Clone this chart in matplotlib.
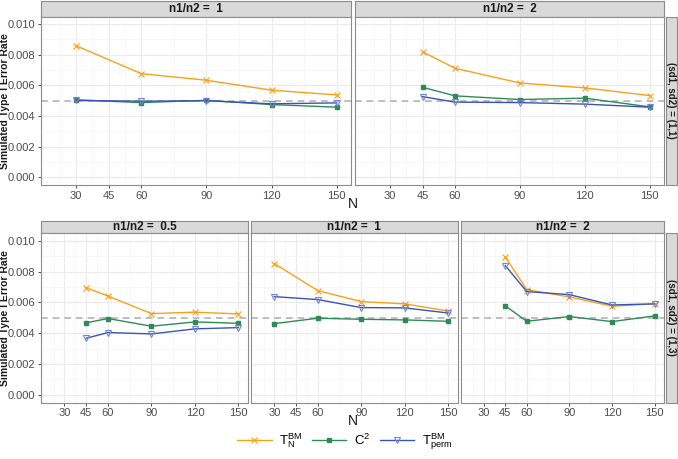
import matplotlib
matplotlib.use("Agg")
import matplotlib.pyplot as plt
from matplotlib.lines import Line2D

plt.rcParams['font.family'] = ['Liberation Sans', 'DejaVu Sans']
plt.rcParams['mathtext.fontset'] = 'custom'
plt.rcParams['mathtext.rm'] = 'Liberation Sans'
plt.rcParams['mathtext.it'] = 'Liberation Sans'

# ---------------- data ----------------
N_r1 = [30, 60, 90, 120, 150]
N_r2 = [45, 60, 90, 120, 150]
N_r05 = [45, 60, 90, 120, 150]

# row 1: (sd1, sd2) = (1,1)
sd11_r1_TN = [0.00859, 0.00677, 0.00634, 0.00569, 0.00538]
sd11_r1_C2 = [0.00506, 0.00488, 0.00503, 0.00475, 0.00458]
sd11_r1_TP = [0.00502, 0.00497, 0.00500, 0.00480, 0.00486]

sd11_r2_TN = [0.00820, 0.00712, 0.00616, 0.00584, 0.00534]
sd11_r2_C2 = [0.00588, 0.00532, 0.00508, 0.00517, 0.00460]
sd11_r2_TP = [0.00527, 0.00491, 0.00488, 0.00478, 0.00458]

# row 2: (sd1, sd2) = (1,3)
sd13_r05_TN = [0.00695, 0.00641, 0.00527, 0.00536, 0.00525]
sd13_r05_C2 = [0.00467, 0.00495, 0.00445, 0.00473, 0.00464]
sd13_r05_TP = [0.00367, 0.00404, 0.00395, 0.00428, 0.00436]

sd13_r1_TN = [0.00851, 0.00676, 0.00605, 0.00590, 0.00544]
sd13_r1_C2 = [0.00462, 0.00497, 0.00490, 0.00486, 0.00477]
sd13_r1_TP = [0.00637, 0.00618, 0.00566, 0.00564, 0.00531]

sd13_r2_TN = [0.00894, 0.00683, 0.00635, 0.00575, 0.00590]
sd13_r2_C2 = [0.00577, 0.00477, 0.00508, 0.00475, 0.00512]
sd13_r2_TP = [0.00838, 0.00670, 0.00650, 0.00583, 0.00590]

x_ticks = [30, 45, 60, 90, 120, 150]
y_ticks = [0.000, 0.002, 0.004, 0.006, 0.008, 0.010]
y_ticklabels = ['0.000', '0.002', '0.004', '0.006', '0.008', '0.010']
nominal = 0.005
series_labels = [r'$\mathregular{T_N^{BM}}$', r'$\mathregular{C^2}$', r'$\mathregular{T_{perm}^{BM}}$']

# ---------------- styling ----------------
W, H = 678, 459
C_TN = '#F7A11A'
C_C2 = '#2E8B57'
C_TP = '#3A52B8'
C_TP_M = '#7584D6'
GRID_MAJ = '#EBEBEB'
GRID_MIN = '#F4F4F4'
BORDER = '#8C8C8C'
STRIP_BG = '#D9D9D9'
TICKC = '#4D4D4D'

fig = plt.figure(figsize=(W / 100, H / 100), dpi=100)


def box(x0, y0, x1, y1):
    return [x0 / W, 1 - y1 / H, (x1 - x0) / W, (y1 - y0) / H]


def strip(x0, y0, x1, y1, text, rot=0):
    a = fig.add_axes(box(x0, y0, x1, y1))
    a.set_xticks([]); a.set_yticks([])
    a.set_facecolor(STRIP_BG)
    for s in a.spines.values():
        s.set_color(BORDER); s.set_linewidth(0.8)
    a.text(0.5, 0.5, text, ha='center', va='center', rotation=rot,
           fontsize=8.5 if rot == 0 else 7, fontweight='bold', color='#1A1A1A',
           transform=a.transAxes)
    return a


def panel(x0, y0, x1, y1, N, TN, C2, TP, ylabels):
    ax = fig.add_axes(box(x0, y0, x1, y1))
    ax.set_xlim(13.8, 156.6)
    ax.set_ylim(-0.0005, 0.0105)
    ax.set_xticks(x_ticks)
    ax.set_xticks([22.5, 37.5, 52.5, 75, 105, 135], minor=True)
    ax.set_yticks(y_ticks)
    ax.set_yticks([0.001, 0.003, 0.005, 0.007, 0.009], minor=True)
    ax.grid(which='major', color=GRID_MAJ, lw=0.8)
    ax.grid(which='minor', color=GRID_MIN, lw=0.5)
    ax.set_axisbelow(True)
    ax.tick_params(which='major', length=2.5, width=0.6, color='#333333',
                   labelsize=8, labelcolor=TICKC, pad=1.5)
    ax.tick_params(which='minor', length=0)
    if ylabels:
        ax.set_yticklabels(y_ticklabels)
    else:
        ax.tick_params(axis='y', which='major', length=0, labelleft=False)
    for s in ax.spines.values():
        s.set_color(BORDER); s.set_linewidth(0.8)
    ax.axhline(nominal, color='#B3B3B3', lw=1.2, ls=(0, (4, 3)), zorder=1)
    ax.plot(N, TN, color=C_TN, lw=1.0, marker='x', ms=4, mew=0.8, zorder=3)
    ax.plot(N, C2, color=C_C2, lw=1.0, marker='s', ms=3.5, zorder=3)
    ax.plot(N, TP, color=C_TP, lw=1.0, marker='v', ms=5, mfc='none', mec=C_TP_M, mew=0.8, zorder=3)
    return ax


# top row
strip(41, 1, 351, 16.5, 'n1/n2 =  1')
strip(355, 1, 664, 16.5, 'n1/n2 =  2')
panel(41, 16.5, 351, 185, N_r1, sd11_r1_TN, sd11_r1_C2, sd11_r1_TP, True)
panel(355, 16.5, 664, 185, N_r2, sd11_r2_TN, sd11_r2_C2, sd11_r2_TP, False)
strip(666, 16.5, 677, 185, '(sd1, sd2) = (1,1)', rot=270)

# bottom row
strip(41, 221, 248, 233, 'n1/n2 =  0.5')
strip(251, 221, 457.5, 233, 'n1/n2 =  1')
strip(461, 221, 664, 233, 'n1/n2 =  2')
panel(41, 233, 248, 402.5, N_r05, sd13_r05_TN, sd13_r05_C2, sd13_r05_TP, True)
panel(251, 233, 457.5, 402.5, N_r1, sd13_r1_TN, sd13_r1_C2, sd13_r1_TP, False)
panel(461, 233, 664, 402.5, N_r2, sd13_r2_TN, sd13_r2_C2, sd13_r2_TP, False)
strip(666, 233, 677, 402.5, '(sd1, sd2) = (1,3)', rot=270)

# axis titles
for yc in [(16.5 + 185) / 2, (233 + 402.5) / 2]:
    fig.text(5 / W, 1 - yc / H, 'Simulated Type I Error Rate', rotation=90,
             ha='center', va='center', fontsize=7.5, fontweight='bold', color='#1A1A1A')
for yc in [204, 421]:
    fig.text(352.5 / W, 1 - yc / H, 'N', ha='center', va='center', fontsize=10, color='#1A1A1A')

# legend
handles = [
    Line2D([], [], color=C_TN, lw=1.0, marker='x', ms=4, mew=0.8),
    Line2D([], [], color=C_C2, lw=1.0, marker='s', ms=3.5),
    Line2D([], [], color=C_TP, lw=1.0, marker='v', ms=5, mfc='none', mec=C_TP_M, mew=0.8),
]
fig.legend(handles, series_labels, loc='center', bbox_to_anchor=(345 / W, 1 - 442 / H),
           ncol=3, frameon=False, fontsize=9.5, handlelength=2.6, columnspacing=0.7,
           handletextpad=0.6)

fig.savefig('out.png', dpi=100)
